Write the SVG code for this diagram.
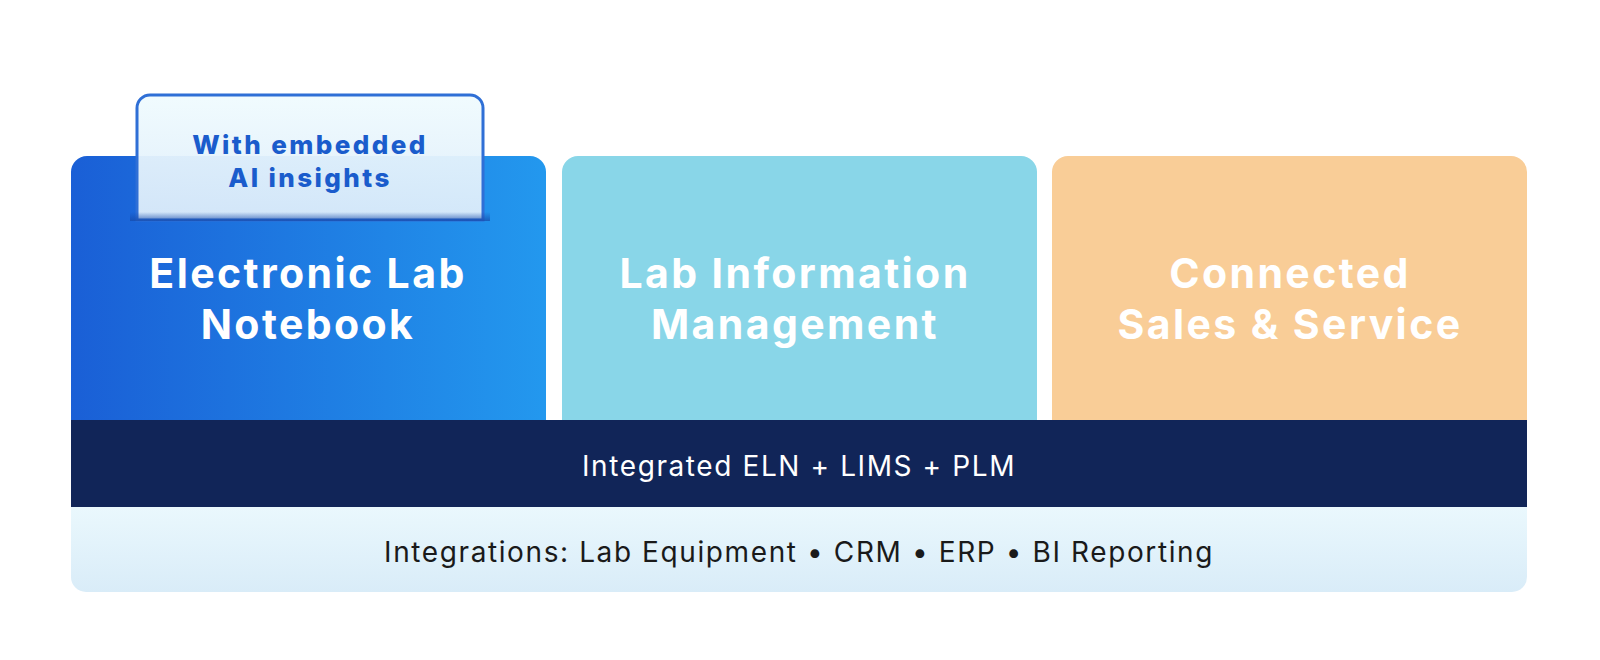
<svg xmlns="http://www.w3.org/2000/svg" width="1600" height="660" viewBox="0 0 1600 660">
<defs>
<linearGradient id="g1" x1="0" y1="0" x2="1" y2="0"><stop offset="0" stop-color="#1a5fd6"/><stop offset="1" stop-color="#2398ee"/></linearGradient>
<linearGradient id="gb" x1="0" y1="0" x2="0" y2="1"><stop offset="0" stop-color="#eaf8fd"/><stop offset="1" stop-color="#d9ecf8"/></linearGradient>
<linearGradient id="gt" x1="0" y1="0" x2="0" y2="1"><stop offset="0" stop-color="#f0fbfe"/><stop offset="1" stop-color="#dcecfa"/></linearGradient>
<linearGradient id="sh" x1="0" y1="0" x2="0" y2="1"><stop offset="0" stop-color="#1448a8" stop-opacity="0"/><stop offset="1" stop-color="#1448a8" stop-opacity="0.7"/></linearGradient>
<style>
.t{font-family:Inter,"Open Sans",sans-serif;font-weight:700;fill:#fff;font-size:41px;letter-spacing:2.4px;text-anchor:middle}
.s{font-family:Inter,"Open Sans",sans-serif;text-anchor:middle;font-size:28px;letter-spacing:1.6px}
.a{font-family:Inter,"Open Sans",sans-serif;font-weight:800;font-size:26px;letter-spacing:2.4px;fill:#1a5ccc;text-anchor:middle}
</style>
</defs>
<rect width="1600" height="660" fill="#fff"/>
<g id="eln">
<path d="M71 420V172a16 16 0 0 1 16-16h443a16 16 0 0 1 16 16v248z" fill="url(#g1)"/>
<text class="t" x="308" y="288">Electronic Lab</text>
<text class="t" x="308" y="339">Notebook</text>
</g>
<g id="ai-tab">
<path d="M137 220V108a13 13 0 0 1 13-13h320a13 13 0 0 1 13 13v112z" fill="url(#gt)" fill-opacity="0.95" stroke="#2f6fd6" stroke-width="3"/>
<rect x="130" y="212" width="360" height="9" fill="url(#sh)"/>
<text class="a" x="310" y="154">With embedded</text>
<text class="a" x="310" y="187">AI insights</text>
</g>
<g id="lims">
<path d="M562 420V172a16 16 0 0 1 16-16h443a16 16 0 0 1 16 16v248z" fill="#89d6e8"/>
<text class="t" x="795" y="288">Lab Information</text>
<text class="t" x="795" y="339">Management</text>
</g>
<g id="css">
<path d="M1052 420V172a16 16 0 0 1 16-16h443a16 16 0 0 1 16 16v248z" fill="#f9cd97"/>
<text class="t" x="1290" y="288">Connected</text>
<text class="t" x="1290" y="339">Sales &amp; Service</text>
</g>
<g id="platform">
<rect x="71" y="420" width="1456" height="87" fill="#112558"/>
<text class="s" x="799" y="476" fill="#fff">Integrated ELN + LIMS + PLM</text>
</g>
<g id="integrations">
<path d="M71 507h1456v70a15 15 0 0 1-15 15H86a15 15 0 0 1-15-15z" fill="url(#gb)"/>
<text class="s" x="799" y="562" fill="#1a1a1a">Integrations: Lab Equipment • CRM • ERP • BI Reporting</text>
</g>
<g id="connectors"/>
</svg>
